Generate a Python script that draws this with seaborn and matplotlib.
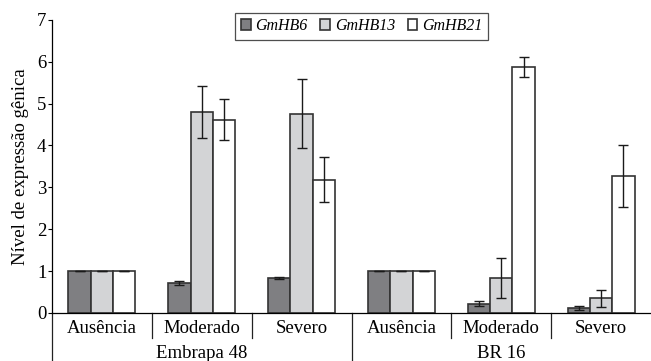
import seaborn as sns
import matplotlib.pyplot as plt
import matplotlib.transforms as mtransforms
import pandas as pd

# data
varieties = ["Embrapa 48", "BR 16"]
conditions = ["Ausência", "Moderado", "Severo"]
genes = ["GmHB6", "GmHB13", "GmHB21"]

gmhb6 = [1.0, 0.72, 0.83, 1.0, 0.22, 0.12]
gmhb6_err = [0.0, 0.04, 0.03, 0.0, 0.06, 0.04]
gmhb13 = [1.0, 4.81, 4.76, 1.0, 0.83, 0.35]
gmhb13_err = [0.0, 0.62, 0.83, 0.0, 0.48, 0.20]
gmhb21 = [1.0, 4.62, 3.18, 1.0, 5.88, 3.26]
gmhb21_err = [0.0, 0.49, 0.54, 0.0, 0.24, 0.74]

colors = ["#7e7f83", "#d3d4d6", "#ffffff"]

keys = [v + "|" + c for v in varieties for c in conditions]
rows = []
for g, vals, errs in [("GmHB6", gmhb6, gmhb6_err), ("GmHB13", gmhb13, gmhb13_err), ("GmHB21", gmhb21, gmhb21_err)]:
    for k, v, e in zip(keys, vals, errs):
        rows.append({"grupo": k, "gene": g, "valor": v, "erro": e})
df = pd.DataFrame(rows)

plt.rcParams['font.family'] = ['Liberation Serif', 'DejaVu Serif']
fig = plt.figure(figsize=(6.51, 3.61), dpi=100)
ax = fig.add_axes([0.0799, 0.133, 0.9201, 0.812])

sns.barplot(data=df, x="grupo", y="valor", hue="gene", order=keys, hue_order=genes,
            palette=colors, width=0.67, edgecolor="#333333", linewidth=1.2,
            errorbar=None, ax=ax)

# error bars on the drawn bars
for g, cont in zip(genes, ax.containers):
    sub = df[df["gene"] == g].set_index("grupo").loc[keys]
    xs = [p.get_x() + p.get_width() / 2 for p in cont.patches]
    ax.errorbar(xs, sub["valor"], yerr=sub["erro"], fmt="none", ecolor="#1a1a1a",
                elinewidth=1.0, capsize=3.5, capthick=1.0)

ax.set_ylim(0, 7)
ax.set_xlim(-0.5, 5.5)
ax.set_yticks(range(8))
ax.tick_params(axis="y", labelsize=13.5, length=3, width=0.8, pad=1)
ax.tick_params(axis="x", length=0, labelsize=13.5, pad=5)
ax.set_xticks(range(6))
ax.set_xticklabels([k.split("|")[1] for k in keys])
ax.set_xlabel("")
ax.set_ylabel("Nível de expressão gênica", fontsize=13.5, labelpad=6)
for s in ["top", "right"]:
    ax.spines[s].set_visible(False)
ax.spines["left"].set_linewidth(0.9)
ax.spines["bottom"].set_linewidth(0.9)

# group separators below the axis
trans = mtransforms.blended_transform_factory(ax.transData, ax.transAxes)
for x in [0.5, 1.5, 3.5, 4.5]:
    ax.plot([x, x], [0, -0.085], color="#222222", lw=0.9, transform=trans, clip_on=False)
for x in [-0.5, 2.5]:
    ax.plot([x, x], [0, -0.17], color="#222222", lw=0.9, transform=trans, clip_on=False)
for i, v in enumerate(varieties):
    ax.text(1 + 3 * i, -0.137, v, transform=trans, ha="center", va="center", fontsize=13.5)

leg = ax.legend(loc="upper center", bbox_to_anchor=(0.517, 1.025), ncol=3,
                frameon=True, fancybox=False, edgecolor="#222222",
                prop={"style": "italic", "size": 11.5}, handlelength=0.6, handleheight=0.6,
                handletextpad=0.3, columnspacing=0.8, borderpad=0.35, borderaxespad=0)
leg.get_frame().set_linewidth(0.9)

plt.savefig("out.png", dpi=100)
